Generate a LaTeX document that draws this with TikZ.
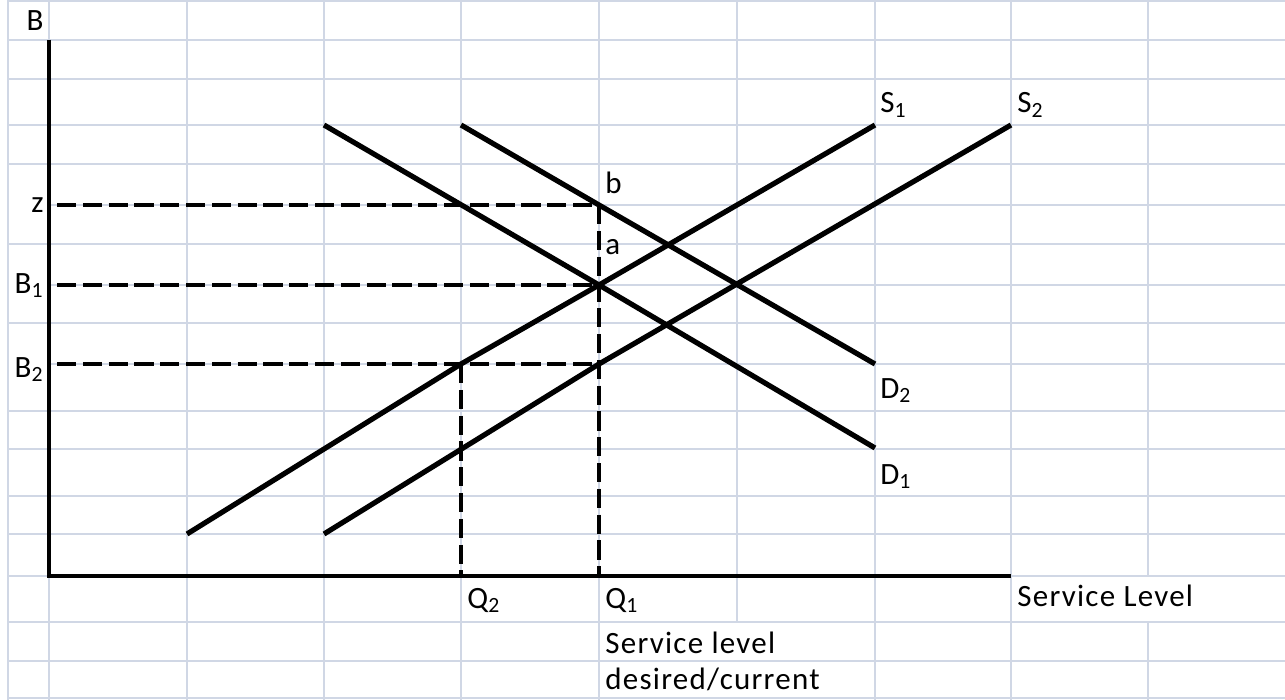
\documentclass[tikz,border=0pt]{standalone}
\usepackage{fontspec}
\setmainfont{Carlito}[LetterSpace=4]
\definecolor{cellgrid}{RGB}{208,215,229}

\begin{document}
\begin{tikzpicture}[
  x=0.5pt,y=-0.5pt,
  gridline/.style={draw=cellgrid,line width=1pt},
  axisline/.style={draw=black,line width=2.4pt},
  curveline/.style={draw=black,line width=2.6pt},
  guideline/.style={draw=black,line width=2.2pt,dash pattern=on 9.6pt off 3.3pt},
  lbl/.style={font=\fontsize{15.5}{18}\selectfont,inner sep=0pt}
]
\useasboundingbox (0,0) rectangle (1285,700);

% spreadsheet cells
\foreach \gx/\ya/\yb in {8/0/700,49/0/700,187/0/700,324/0/700,461/0/700,599/0/700,
    737/0/622,875/0/700,1011/0/700,1148/0/576,1148/622/700}
  \draw[gridline] (\gx,\ya) -- (\gx,\yb);
\foreach \gy/\xa in {1/8,40/8,79/8,125/8,164/8,205/49,244/8,285/49,323/8,364/49,
    411/8,449/8,496/8,534/8,576/8,622/8,661/8,698/8}
  \draw[gridline] (\xa,\gy) -- (1285,\gy);

% key points
\coordinate (origin) at (49,576);
\coordinate (ytop) at (49,40);
\coordinate (xend) at (1011,576);
\coordinate (zleft) at (57,205);
\coordinate (b1left) at (57,285);
\coordinate (b2left) at (57,364);
\coordinate (ptb) at (599,205);
\coordinate (pta) at (599,285);
\coordinate (ptq1) at (599,364);
\coordinate (ptq2) at (461,364);
\coordinate (q1foot) at (599,576);
\coordinate (q2foot) at (461,576);
\coordinate (d1start) at (324,125);
\coordinate (d1end) at (875,448);
\coordinate (d2start) at (461,125);
\coordinate (d2end) at (875,364);
\coordinate (s1start) at (187,534);
\coordinate (s1end) at (875,125);
\coordinate (s2start) at (324,534);
\coordinate (s2end) at (1011,125);

% axes
\draw[axisline] (ytop) -- (origin) -- (xend);

% demand and supply
\draw[curveline] (d1start) -- (pta) -- (d1end);
\draw[curveline] (d2start) -- (ptb) -- (d2end);
\draw[curveline] (s1start) -- (ptq2) -- (pta) -- (s1end);
\draw[curveline] (s2start) -- (ptq1) -- (s2end);

% dashed guides
\draw[guideline] (zleft) -- (ptb);
\draw[guideline] (b1left) -- (pta);
\draw[guideline] (b2left) -- (ptq1);
\draw[guideline] (ptb) -- (q1foot);
\draw[guideline] (ptq2) -- (q2foot);

% labels
\node[lbl,anchor=base east] (lblb) at (44,31) {B};
\node[lbl,anchor=base east] (lblz) at (44,213) {z};
\node[lbl,anchor=base east] (lblbone) at (44,293) {B\textsubscript{1}};
\node[lbl,anchor=base east] (lblbtwo) at (44,377) {B\textsubscript{2}};
\node[lbl,anchor=base west] (lblsone) at (880,113) {S\textsubscript{1}};
\node[lbl,anchor=base west] (lblstwo) at (1017,113) {S\textsubscript{2}};
\node[lbl,anchor=base west] (lblpb) at (605,194) {b};
\node[lbl,anchor=base west] (lblpa) at (605,255) {a};
\node[lbl,anchor=base west] (lbldtwo) at (880,398) {D\textsubscript{2}};
\node[lbl,anchor=base west] (lbldone) at (880,484) {D\textsubscript{1}};
\node[lbl,anchor=base west] (lblqtwo) at (467,608) {Q\textsubscript{2}};
\node[lbl,anchor=base west] (lblqone) at (605,608) {Q\textsubscript{1}};
\node[lbl,anchor=base west] (lblxaxis) at (1017,606) {Service Level};
\node[lbl,anchor=base west] (lbldesired) at (605,653) {Service level};
\node[lbl,anchor=base west] (lblcurrent) at (605,689) {desired/current};
\end{tikzpicture}
\end{document}
